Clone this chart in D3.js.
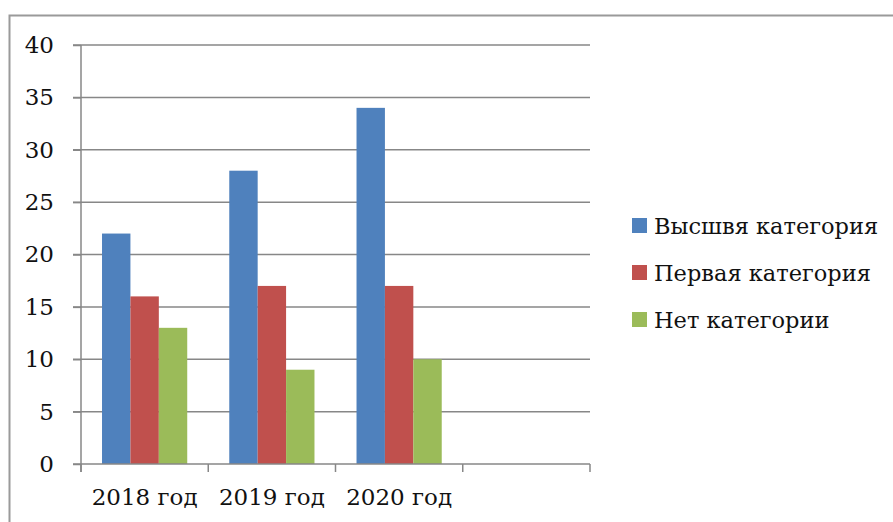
<!DOCTYPE html>
<html>
<head>
<meta charset="utf-8">
<script src="https://cdn.jsdelivr.net/npm/d3@7"></script>
<style>
  body { margin: 0; background: #fff; }
  svg { display: block; }
</style>
</head>
<body>
<div id="chart"></div>
<script>
// data
const categories = ["2018 год", "2019 год", "2020 год", ""];
const seriesNames = ["Высшвя категория", "Первая категория", "Нет категории"];
const highest = [22, 28, 34];
const first = [16, 17, 17];
const none = [13, 9, 10];
const yTicks = [0, 5, 10, 15, 20, 25, 30, 35, 40];

const colors = ["#4F81BD", "#C0504D", "#9BBB59"];
const seriesValues = [highest, first, none];

const W = 893, H = 522;
const margin = { top: 45, left: 81, right: 303, bottom: 58 };
const width = W - margin.left - margin.right;
const height = H - margin.top - margin.bottom;
const font = "DejaVu Serif";

let svg = d3.select("#chart").append("svg")
    .attr("width", W)
    .attr("height", H);

// outer frame (only left and top edges are visible in the crop)
svg.append("path")
    .attr("d", "M9.5," + H + " V15.5 H" + W)
    .attr("fill", "none")
    .attr("stroke", "#9a9a9a")
    .attr("stroke-width", 2);

let g = svg.append("g")
    .attr("transform", "translate(" + margin.left + "," + margin.top + ")");

const x0 = d3.scaleBand().domain(d3.range(categories.length)).range([0, width]).paddingInner(0).paddingOuter(0);
const x1 = d3.scaleBand().domain(d3.range(seriesNames.length)).range([0, x0.bandwidth()]).paddingOuter(0.74).paddingInner(0);
const y = d3.scaleLinear().domain([0, 40]).range([height, 0]);

// gridlines
g.append("g")
    .selectAll("line")
    .data(yTicks.filter(d => d > 0))
    .enter().append("line")
    .attr("x1", -8)
    .attr("x2", width)
    .attr("y1", d => y(d))
    .attr("y2", d => y(d))
    .attr("stroke", "#878787")
    .attr("stroke-width", 1.5);

// bars
let groups = g.append("g")
    .selectAll("g")
    .data(seriesValues)
    .enter().append("g")
    .attr("fill", (d, i) => colors[i]);

groups.each(function(vals, si) {
    d3.select(this).selectAll("rect")
        .data(vals)
        .enter().append("rect")
        .attr("x", (d, ci) => x0(ci) + x1(si))
        .attr("width", x1.bandwidth())
        .attr("y", d => y(d))
        .attr("height", d => height - y(d));
});

// y axis
let yAxis = g.append("g")
    .call(d3.axisLeft(y).tickValues(yTicks).tickSize(8).tickPadding(19));
yAxis.select(".domain").remove();
yAxis.selectAll("line").attr("stroke", "#878787").attr("stroke-width", 1.5);
yAxis.selectAll("text")
    .attr("font-family", font)
    .attr("font-size", 23)
    .attr("fill", "#111");
g.append("line")
    .attr("x1", 0).attr("x2", 0)
    .attr("y1", 0).attr("y2", height + 8)
    .attr("stroke", "#878787").attr("stroke-width", 1.5);

// x axis
let xAxisG = g.append("g").attr("transform", "translate(0," + height + ")");
xAxisG.append("line")
    .attr("x1", -8).attr("x2", width)
    .attr("stroke", "#878787").attr("stroke-width", 1.5);
xAxisG.selectAll(".tk")
    .data(d3.range(categories.length + 1))
    .enter().append("line")
    .attr("x1", d => d * x0.bandwidth())
    .attr("x2", d => d * x0.bandwidth())
    .attr("y1", 0).attr("y2", 8)
    .attr("stroke", "#878787").attr("stroke-width", 1.5);
xAxisG.selectAll("text")
    .data(categories)
    .enter().append("text")
    .attr("x", (d, i) => x0(i) + x0.bandwidth() / 2)
    .attr("y", 41)
    .attr("text-anchor", "middle")
    .attr("font-family", font)
    .attr("font-size", 23)
    .attr("fill", "#111")
    .text(d => d);

// legend
let legend = svg.append("g")
    .attr("transform", "translate(632,218)");
let items = legend.selectAll("g")
    .data(seriesNames)
    .enter().append("g")
    .attr("transform", (d, i) => "translate(0," + i * 47 + ")");
items.append("rect")
    .attr("width", 15).attr("height", 15)
    .attr("fill", (d, i) => colors[i]);
items.append("text")
    .attr("x", 22)
    .attr("y", 16)
    .attr("font-family", font)
    .attr("font-size", 22.5)
    .attr("fill", "#111")
    .text(d => d);
</script>
</body>
</html>
